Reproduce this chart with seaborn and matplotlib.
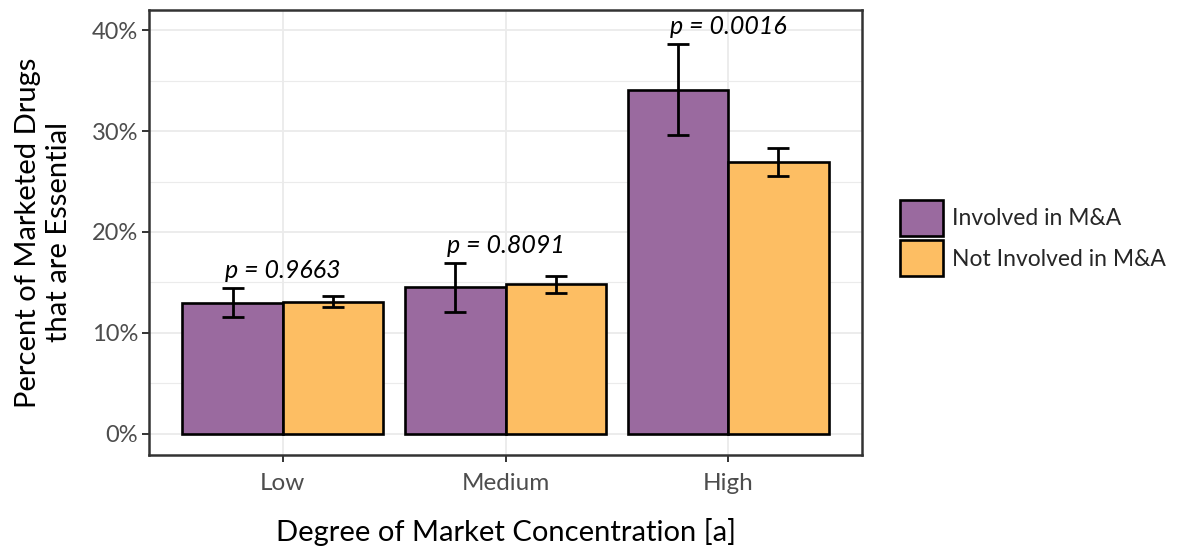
import matplotlib
matplotlib.use("Agg")
import matplotlib.pyplot as plt
import numpy as np
import pandas as pd
import seaborn as sns
from matplotlib.patches import Patch
from matplotlib.ticker import MultipleLocator, FuncFormatter

# Share of marketed drugs that are essential, by market concentration
concentration = ["Low", "Medium", "High"]
groups = ["Involved in M&A", "Not Involved in M&A"]
pct_involved = [13.0, 14.5, 34.1]
pct_not_involved = [13.1, 14.8, 26.9]
err_involved = [1.4, 2.4, 4.5]
err_not_involved = [0.55, 0.85, 1.4]
p_values = ["0.9663", "0.8091", "0.0016"]

colors = ["#9A6A9F", "#FDBE63"]

df = pd.DataFrame({
    "concentration": concentration * 2,
    "group": [groups[0]] * 3 + [groups[1]] * 3,
    "pct": pct_involved + pct_not_involved,
    "err": err_involved + err_not_involved,
})

sns.set_theme(style="white")
plt.rcParams["font.family"] = ["Lato", "DejaVu Sans"]

fig = plt.figure(figsize=(11.81, 5.46), dpi=100)
ax = fig.add_axes([0.1262, 0.1667, 0.6037, 0.815])

sns.barplot(data=df, x="concentration", y="pct", hue="group",
            order=concentration, hue_order=groups, palette=colors,
            width=0.9, gap=0, errorbar=None, edgecolor="black",
            linewidth=1.9, saturation=1, ax=ax, zorder=2)
ax.get_legend().remove()

# Error bars placed at the centres of the drawn bars
bars = [p for p in ax.patches if p.get_height() > 0]
for bar, err in zip(bars, df["err"]):
    cx = bar.get_x() + bar.get_width() / 2
    ax.errorbar(cx, bar.get_height(), yerr=err, fmt="none", ecolor="black",
                elinewidth=2.0, capsize=8, capthick=2.0, zorder=3)

# p-value annotations above the M&A bars
for i, pv in enumerate(p_values):
    top = pct_involved[i] + err_involved[i]
    ax.text(i, top + 0.6, f"p = {pv}", ha="center", va="bottom",
            fontsize=18, style="italic", color="black", zorder=4)

ax.set_xlim(-0.6, 2.6)
ax.set_ylim(-2.1, 42)
ax.yaxis.set_major_locator(MultipleLocator(10))
ax.yaxis.set_minor_locator(MultipleLocator(5))
ax.yaxis.set_major_formatter(FuncFormatter(lambda v, _: f"{v:.0f}%"))

ax.set_axisbelow(True)
ax.grid(which="major", axis="both", color="#EBEBEB", linewidth=1.3, zorder=0)
ax.grid(which="minor", axis="y", color="#EBEBEB", linewidth=0.8, zorder=0)

for s in ax.spines.values():
    s.set_color("#333333")
    s.set_linewidth(1.8)
ax.tick_params(axis="both", which="major", length=5, width=1.4,
               color="#333333", labelcolor="#4D4D4D", labelsize=17, pad=3,
               left=True, bottom=True)
ax.tick_params(axis="both", which="minor", length=0)
ax.tick_params(axis="x", labelsize=17.5, pad=8)

ax.set_xlabel("Degree of Market Concentration [a]", fontsize=21,
              color="black", labelpad=17)
ax.set_ylabel("Percent of Marketed Drugs\nthat are Essential", fontsize=21,
              color="black", labelpad=14, linespacing=1.25)

handles = [Patch(facecolor=c, edgecolor="black", linewidth=1.9) for c in colors]
fig.legend(handles, groups, loc="center left", bbox_to_anchor=(0.752, 0.564),
           frameon=False, fontsize=16.5, handlelength=1.88, handleheight=2.05,
           handletextpad=0.4, labelspacing=0.2, borderpad=0)

fig.savefig("out.png", dpi=100, facecolor="white")
